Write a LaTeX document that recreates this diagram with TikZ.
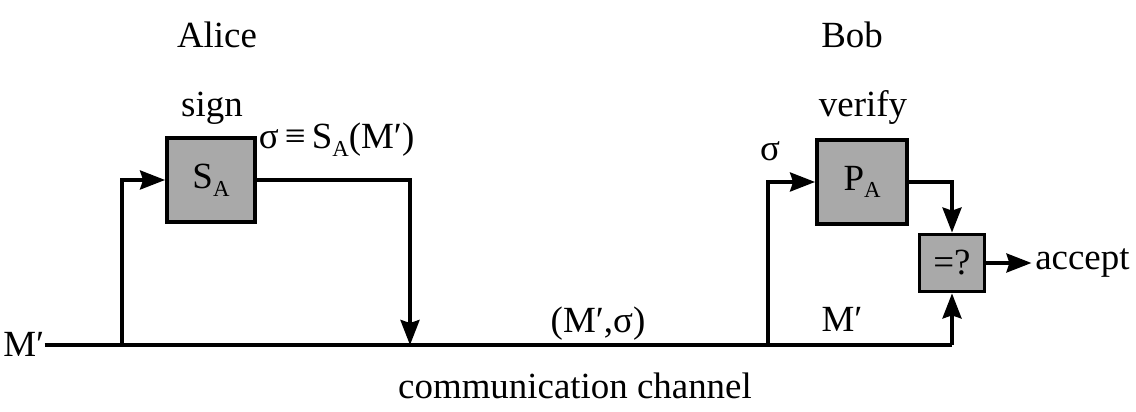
\documentclass[tikz,border=0pt]{standalone}
\usepackage{fontspec}
\setmainfont{Liberation Serif}
\definecolor{BoxGray}{HTML}{A9A9A9}
\usetikzlibrary{arrows.meta,positioning}
\newcommand{\idx}[1]{\raisebox{-0.45ex}{\fontsize{13}{13}\selectfont #1}}

\begin{document}
\begin{tikzpicture}[
        blk/.style={draw,fill=BoxGray,line width=2.2pt,
                    minimum width=1.76cm,minimum height=1.68cm,
                    inner sep=2pt,align=center,anchor=center},
        wire/.style={line width=2pt},
        sig/.style={wire,-{Stealth[length=0.5cm,width=0.38cm,inset=0.06cm]}},
        every node/.style={font=\fontsize{21}{24}\selectfont,inner sep=2pt}]

        \useasboundingbox (0,0) rectangle (22.72,8.24);

        % parties
        \node (alice) at (4.34,7.54)  {Alice};
        \node (bob)   at (17.04,7.54) {Bob};

        % blocks
        \node[blk] (sa) at (4.22,4.64) {S\idx{A}};
        \node[blk,minimum width=1.8cm] (pa) at (17.24,4.60) {P\idx{A}};
        \node[blk,minimum width=1.3cm,minimum height=1.14cm] (eq) at (19.04,2.98) {=?};

        \node (sign)   at (4.24,6.08)  {sign};
        \node (verify) at (17.26,6.08) {verify};

        % wire labels
        \node[anchor=west] (sdef) at (5.1,5.44) {σ\,≡\,S\idx{A}(M′)};
        \node (sbob) at (15.4,5.22) {σ};
        \node (pair) at (11.96,1.76) {(M′,σ)};
        \node (mbob) at (16.84,1.86) {M′};
        \node[anchor=west,inner sep=0pt] (min) at (0.06,1.36) {M′};
        \node (chan) at (11.5,0.52) {communication channel};
        \node[right=0.9cm of eq] (acc) {accept};

        % junctions on the channel
        \coordinate (ja) at (2.44,1.34);
        \coordinate (jd) at (8.2,1.34);
        \coordinate (jb) at (15.36,1.34);
        \coordinate (je) at (19.04,1.34);

        % channel and branches
        \draw[wire] (min.east |- ja) -- (je);
        \draw[sig] (je) -- (eq.south);
        \draw[sig] (ja) |- (sa.west);
        \draw[sig] (sa.east) -| (jd);
        \draw[sig] (jb) |- (pa.west);
        \draw[sig] (pa.east) -| (eq.north);
        \draw[sig] (eq.east) -- (acc.west);
      \end{tikzpicture}
\end{document}
